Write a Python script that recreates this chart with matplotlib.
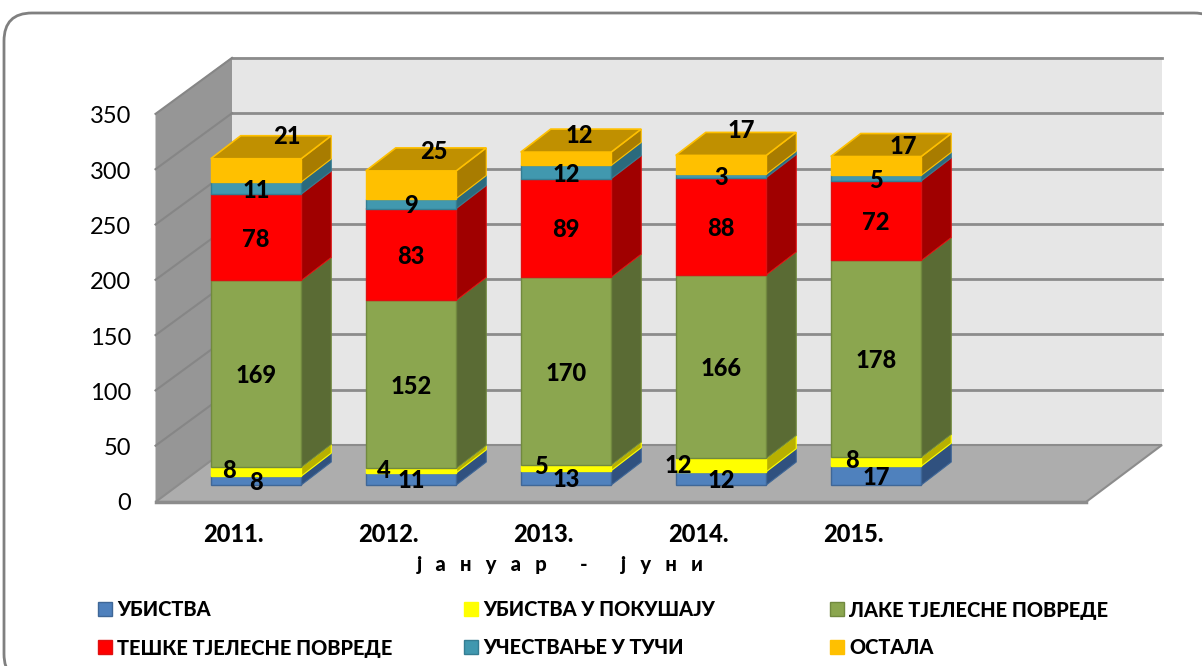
import matplotlib
matplotlib.use("Agg")
import matplotlib.pyplot as plt
from matplotlib.patches import FancyBboxPatch, Polygon, Rectangle

plt.rcParams['font.family'] = ['Lato', 'Noto Sans', 'DejaVu Sans']

years = ["2011.", "2012.", "2013.", "2014.", "2015."]
series_names = ["УБИСТВА", "УБИСТВА У ПОКУШАЈУ", "ЛАКЕ ТЈЕЛЕСНЕ ПОВРЕДЕ",
                "ТЕШКЕ ТЈЕЛЕСНЕ ПОВРЕДЕ", "УЧЕСТВАЊЕ У ТУЧИ", "ОСТАЛА"]

ubistva = [8, 11, 13, 12, 17]
pokusaj = [8, 4, 5, 12, 8]
lake = [169, 152, 170, 166, 178]
teske = [78, 83, 89, 88, 72]
tuca = [11, 9, 12, 3, 5]
ostala = [21, 25, 12, 17, 17]

y_ticks = [0, 50, 100, 150, 200, 250, 300, 350]

front = ['#4f81bd', '#ffff00', '#8ba64f', '#ff0000', '#4198af', '#ffc000']
side = ['#30517f', '#b8b000', '#5a6b34', '#a00000', '#2b6a7d', '#a87c00']
edge = ['#3f6797', '#ffff00', '#71893f', '#e01010', '#357d92', '#ffc000']
top_col = '#c09000'

W, H = 1202, 666
PX_X = 155.0     # pixels per category
PX_Y = 1.106     # pixels per unit
X0, Y0 = 256, 485  # pixel of first bar centre, value 0
BAR_W = 90.5 / PX_X
DX, DY = 30 / PX_X, 23 / PX_Y

BOLD = 900

fig = plt.figure(figsize=(W / 100, H / 100), dpi=100, facecolor='white')

# pixel layer for the room, frame and text
bg = fig.add_axes([0, 0, 1, 1])
bg.set_xlim(0, W)
bg.set_ylim(H, 0)
bg.axis('off')

# the frame runs off the right and bottom edges of the picture
bg.add_patch(FancyBboxPatch((4, 13), 1218, 669, boxstyle="round,pad=0,rounding_size=28",
                            fc='white', ec='#808080', lw=2))

# walls and floor
bg.add_patch(Polygon([(232, 57), (1162, 57), (1162, 445), (232, 445)], fc='#e6e6e6', ec='none'))
bg.add_patch(Polygon([(155.5, 114), (232, 57), (232, 445), (155.5, 502)], fc='#969696', ec='none'))
bg.add_patch(Polygon([(155.5, 502), (232, 445), (1162, 445), (1086, 502)], fc='#adadad', ec='#8c8c8c', lw=1.5))
bg.plot([155.5, 1086], [502, 502], color='#8c8c8c', lw=2.5)

for v in y_ticks:
    yb = 445 - PX_Y * v
    yf = 501 - PX_Y * v
    if v > 0:
        bg.plot([232, 1162], [yb, yb], color='#8c8c8c', lw=2)
        bg.plot([155.5, 232], [yf, yb], color='#868686', lw=1.5)
    bg.text(131, yf + 3, str(v), ha='right', va='center', fontsize=17, color='black')

for i, yr in enumerate(years):
    bg.text(233 + 155 * i, 535, yr, ha='center', va='center', fontsize=17, fontweight=BOLD)
bg.text(560, 564, "ј   а   н   у   а   р       -       ј   у   н   и", ha='center', va='center',
        fontsize=14.5, fontweight=BOLD)

# legend
legend_pos = [(98, 609), (464, 609), (830, 609), (98, 647), (464, 647), (830, 647)]
for (lx, ly), name, fc, ec in zip(legend_pos, series_names, front, edge):
    bg.add_patch(Rectangle((lx, ly - 7), 14, 14, fc=fc, ec=ec, lw=1))
    bg.text(lx + 19, ly + 1, name, ha='left', va='center', fontsize=14.4, fontweight=BOLD)

# data layer, same canvas but in category / value units
ax = fig.add_axes([0, 0, 1, 1], facecolor='none')
ax.set_xlim((0 - X0) / PX_X, (W - X0) / PX_X)
ax.set_ylim((Y0 - H) / PX_Y, Y0 / PX_Y)
ax.axis('off')

all_series = [ubistva, pokusaj, lake, teske, tuca, ostala]
# label shifts in pixels for the two series that sit off their segment
pokusaj_shift = [(-27, -1), (-27, 0), (-25, -1), (-43, 0), (-24, -1)]
ostala_shift = [(31, -34), (23, -33), (13, -23), (20, -34), (27, -19)]

bottom = [0] * len(years)
for s, vals in enumerate(all_series):
    for i, v in enumerate(vals):
        b = bottom[i]
        l = i - BAR_W / 2
        r = i + BAR_W / 2
        ax.add_patch(Polygon([(r, b), (r + DX, b + DY), (r + DX, b + v + DY), (r, b + v)],
                             fc=side[s], ec=edge[s], lw=0.8, zorder=3 + s * 0.1))
        ax.bar(i, v, BAR_W, bottom=b, color=front[s], edgecolor=edge[s], lw=1, zorder=3 + s * 0.1)
        if s == len(all_series) - 1:
            t = b + v
            ax.add_patch(Polygon([(l, t), (r, t), (r + DX, t + DY), (l + DX, t + DY)],
                                 fc=top_col, ec=edge[s], lw=1.2, zorder=4))
    bottom = [b + v for b, v in zip(bottom, vals)]

bottom = [0] * len(years)
for s, vals in enumerate(all_series):
    for i, v in enumerate(vals):
        dx, dy = 0, 2
        if s == 1:
            dx, dy = pokusaj_shift[i]
        if s == 5:
            dx, dy = ostala_shift[i]
        ax.text(i + dx / PX_X, bottom[i] + v / 2 - dy / PX_Y, str(v), ha='center', va='center',
                fontsize=17, fontweight=BOLD, color='black', zorder=6)
    bottom = [b + v for b, v in zip(bottom, vals)]

fig.savefig("out.png", dpi=100)
